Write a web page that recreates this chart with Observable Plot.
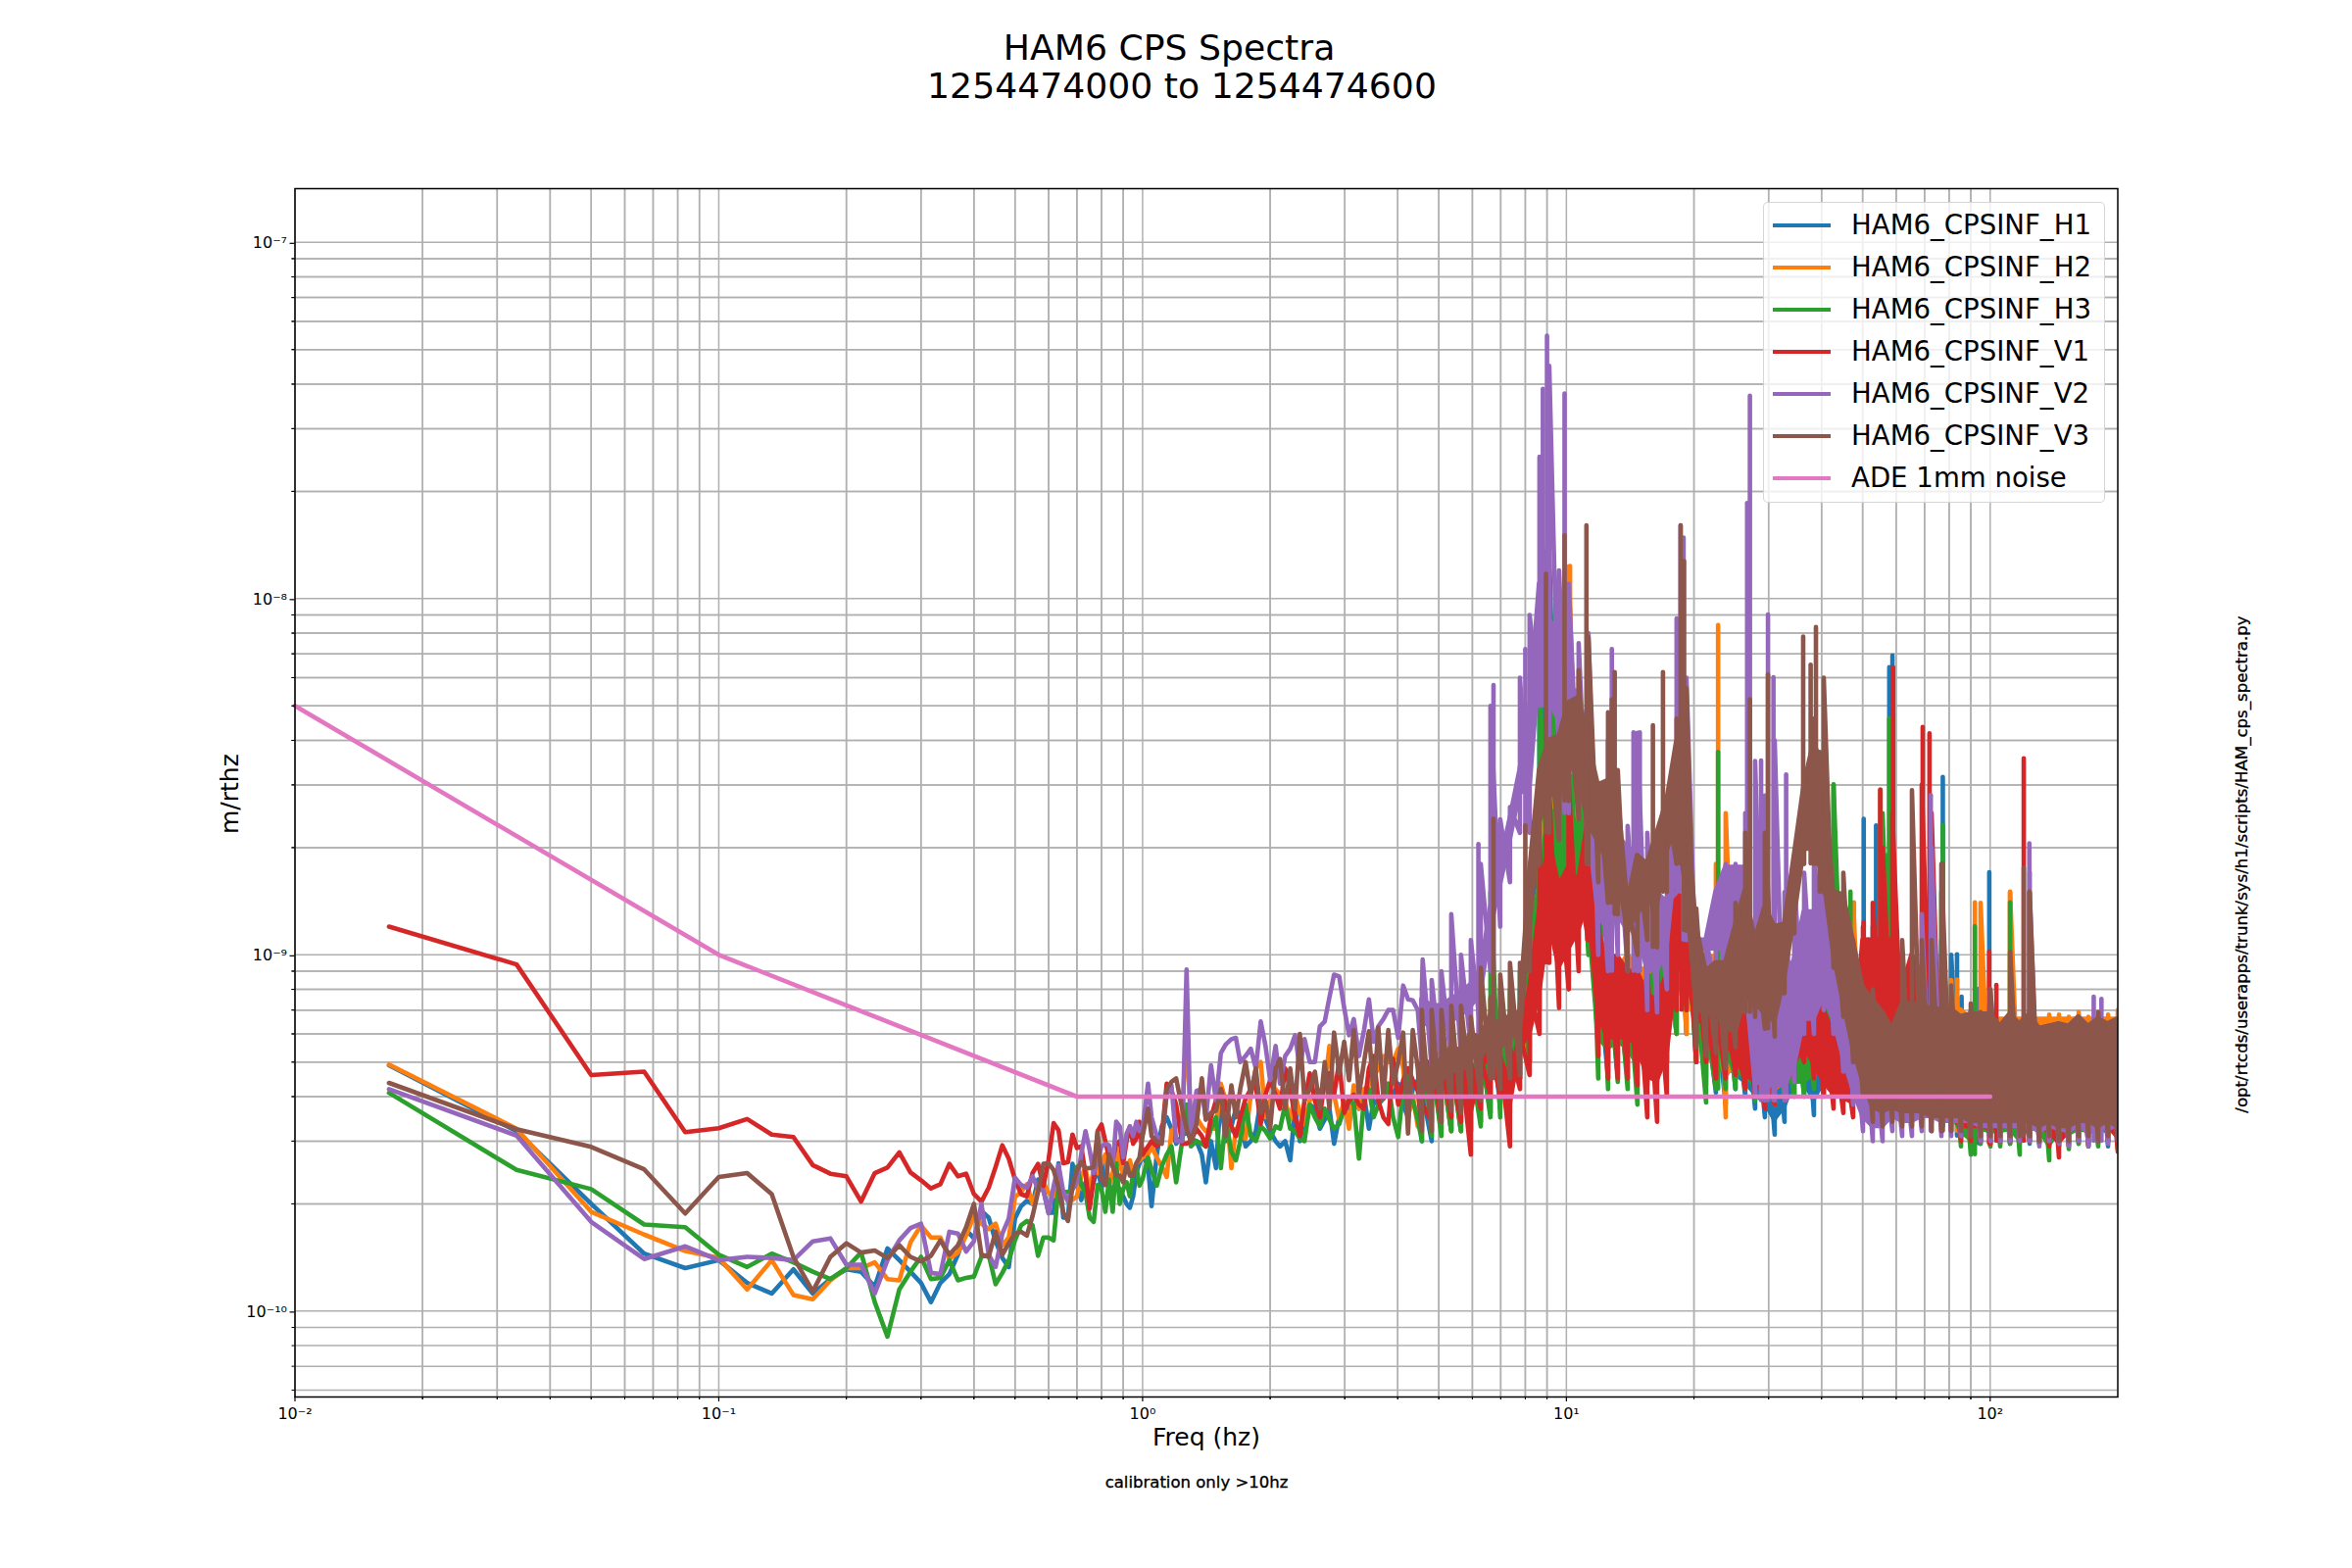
<!DOCTYPE html>
<html><head><meta charset="utf-8">
<script src="https://cdn.jsdelivr.net/npm/d3@7"></script>
<script src="https://cdn.jsdelivr.net/npm/@observablehq/plot@0.6"></script>
<style>
html,body{margin:0;padding:0;background:#fff}
#page{position:relative;width:2400px;height:1600px;overflow:hidden;font-family:"DejaVu Sans",sans-serif;color:#000}
#page svg{position:absolute;left:0;top:0}
.t{position:absolute;white-space:pre;line-height:1}
#legend{position:absolute;left:1799px;top:206px;width:349px;height:307px;box-sizing:border-box;background:rgba(255,255,255,.8);border:1.5px solid rgba(204,204,204,.8);border-radius:5px}
.row{position:absolute;left:0;font-size:27.6px;line-height:1;white-space:pre}
.sw{position:absolute;left:9px;width:59px;height:4.6px}
</style></head><body><div id="page"></div>
<script>
// All amplitudes are in units of 1e-10 m/rtHz.
const unit = 1e-10;
const names = ["HAM6_CPSINF_H1","HAM6_CPSINF_H2","HAM6_CPSINF_H3","HAM6_CPSINF_V1","HAM6_CPSINF_V2","HAM6_CPSINF_V3"];
const colors = ["#1f77b4","#ff7f0e","#2ca02c","#d62728","#9467bd","#8c564b"];
const adeName = "ADE 1mm noise", adeColor = "#e377c2";
const adeF = [0.01,0.1,0.7,100];
const adeV = [50,10,4,4];

// below 1 Hz: the 1/60 Hz bins
const binCount = 59;
const lowH1 = [4.9,3.2,2.0,1.45,1.32,1.39,1.2,1.12,1.31,1.12,1.23,1.31,1.29,1.17,1.5,1.39,1.29,1.2,1.06,1.2,1.27,1.44,1.69,1.6,1.91,1.83,1.57,1.41,1.33,1.82,1.97,2.04,2.0,2.34,2.2,1.89,1.89,2.6,1.83,1.83,2.59,2.26,2.05,2.3,2.2,2.3,2.54,2.2,2.66,2.26,2.16,2.25,2.2,2.1,2.0,1.95,2.1,2.45,2.6];
const lowH2 = [4.92,3.25,1.9,1.64,1.475,1.41,1.15,1.39,1.11,1.08,1.22,1.32,1.32,1.37,1.23,1.22,1.56,1.74,1.61,1.61,1.4,1.46,1.63,1.85,1.76,1.7,1.76,1.53,1.61,2.09,2.16,2.27,2.0,2.2,2.3,2.15,2.1,2.34,2.14,2.04,2.05,2.1,2.4,2.52,2.16,2.5,2.44,2.6,2.75,2.26,2.44,2.85,2.6,2.4,2.5,2.65,2.45,2.6,2.65];
const lowH3 = [4.1,2.49,2.2,1.75,1.72,1.44,1.33,1.45,1.37,1.29,1.23,1.32,1.46,1.06,0.848,1.15,1.29,1.42,1.23,1.24,1.39,1.22,1.24,1.25,1.42,1.44,1.19,1.28,1.39,1.58,1.74,1.79,1.74,1.43,1.61,1.61,1.58,2.24,2.16,2.16,2.2,2.54,2.26,2.15,1.83,1.78,2.26,2.2,1.9,2.34,1.9,2.6,2,2.2,2.3,2.1,2.45,2.55,2.25];
const lowV1 = [12,9.4,4.6,4.7,3.18,3.26,3.46,3.13,3.08,2.57,2.43,2.39,2.03,2.44,2.53,2.79,2.45,2.33,2.21,2.27,2.59,2.39,2.43,2.13,2.03,2.22,2.54,2.92,2.68,2.34,2.13,2.1,2.44,2.59,2.24,2.66,3.37,3.22,2.6,2.62,3.13,2.87,2.9,2.42,1.94,2.34,3.2,3.34,3,2.7,2.66,2.95,3,2.6,3,3.3,2.95,3.05,3.4];
const lowV2 = [4.2,3.11,1.78,1.4,1.52,1.39,1.42,1.41,1.39,1.57,1.6,1.35,1.35,1.12,1.39,1.58,1.71,1.76,1.28,1.27,1.67,1.65,1.47,1.57,2,1.44,1.33,1.65,1.82,2.37,2.26,2.22,2.39,2.2,2.18,1.88,2.24,2.57,2.16,2.03,2.2,2.3,2.76,3.2,2.83,2.44,2.66,2.9,2.95,2.92,2.55,3.4,3.3,2.7,3.15,3.3,3.1,3.4,3.2];
const lowV3 = [4.37,3.24,2.89,2.5,1.88,2.38,2.44,2.13,1.42,1.135,1.42,1.55,1.46,1.48,1.41,1.53,1.42,1.38,1.43,1.58,1.44,1.53,1.72,2,1.44,1.42,1.67,1.44,1.55,1.65,1.67,1.63,1.85,2.16,2.59,2.6,2.49,2.22,1.89,1.79,2.24,2.49,2.62,2.52,2.52,2.54,3.18,2.34,2.26,2.75,2.55,2.4,2.4,2.3,2.6,2.4,2.4,2.6,2.7];

// 1 to 4.6 Hz: individual traces
const midF = [1.00,1.03,1.05,1.08,1.11,1.14,1.17,1.20,1.24,1.27,1.30,1.34,1.38,1.41,1.45,1.49,1.53,1.57,1.62,1.66,1.70,1.75,1.80,1.85,1.90,1.95,2.00,2.06,2.11,2.17,2.23,2.29,2.35,2.41,2.48,2.55,2.62,2.69,2.76,2.83,2.91,2.99,3.07,3.15,3.24,3.33,3.42,3.51,3.60,3.70,3.80,3.90,4.01,4.12,4.23,4.34,4.46,4.58];
const midH1 = [2.75,2.55,1.97,2.75,3.3,3.5,3.25,2.95,3.1,3.2,3.05,3,2.75,2.3,3,2.52,4.05,3,3.3,3.7,3.5,2.9,3,3.2,3.9,3.45,3.2,3,2.9,3,2.65,3.7,3,3.5,3.8,3.7,3.25,3.45,3.7,2.95,3.5,3.8,3.7,3.9,3.7,4.05,3.25,3.9,3.8,3.95,4.3,4.05,4.35,3.8,3.5,4.2,4.45,4.05];
const midH2 = [2.7,2.75,2.9,2.7,2.55,2.38,3.2,3.3,3.5,6.3,3.25,3.5,3.3,3.2,3.25,3.25,4.35,3.9,2.52,3.25,3.1,3.05,4.05,4.8,5,3.5,3.9,4.2,4.05,3.9,3.45,4.05,3.6,3.35,3.9,4.15,4.15,4.3,5.55,4.05,3.45,3.9,3.25,4.3,3.7,4.2,4.3,4.55,4.8,5.2,5,5,5.45,4.8,3.5,4.05,3.3,5];
const midH3 = [2.35,2.7,2.5,2.25,2.55,2.75,2.9,2.3,3,3.8,2.9,3,2.95,2.9,3.25,3.5,2.52,3.45,2.8,2.65,3,3.8,3.1,3,3.3,3.2,3.05,3.3,3.25,3.8,3.25,3.2,3.05,3,3.8,3.5,3.3,3.7,3.45,3.25,3.35,3.7,3.95,3.8,2.68,3.95,4.2,3.5,3.8,4.05,4.35,3.5,3.08,4.2,4.55,3.9,3.45,5.55];
const midV1 = [2.75,2.9,3,2.9,3.1,4.35,4.15,3.8,2.95,2.95,3,3.25,3.1,2.9,3.5,3.9,4.2,3.8,3.3,3.1,3.5,3.95,4.2,4.3,3.35,4.05,4.45,4.05,3.7,4.8,4.2,3.5,3.1,3.9,4.65,3.9,3.5,4.45,4.65,4.05,5,3.6,3.9,4.05,3.8,3.7,4.8,5.2,3.9,3.5,3.35,5.1,3.8,4.45,4.8,4.45,4.15,3.8];
const midV2 = [3.25,4.35,3.5,3.1,3,4.05,4.3,3,3,9.1,3.1,4.15,4.2,3.45,4.9,3.9,5.3,5.6,5.8,5.85,5,5.2,5.45,4.8,6.5,5.55,4.45,5.55,4.35,5.2,5.45,5.95,4.8,5.8,5,5,6.3,6.5,7.6,8.8,8.7,7.1,5.95,6.6,5.2,6.15,7.5,5.7,6.3,6.6,7,7,5.85,8.2,7.5,7.45,7,9.7];
const midV3 = [3.1,3.7,3.1,3,2.95,4.2,4.4,4.5,3.7,3.25,3,3.35,4.5,3.45,3.6,3.65,4.2,3.1,4.3,3.5,4.2,5,4.05,4.8,3.6,3.9,3.25,4.8,5.1,3.7,4.8,3.7,6,3.9,4.2,4.7,3.7,5,3.7,6.05,4.65,5.7,4.45,6.15,4.05,5,6.1,4.05,6.25,3.95,6.15,4.35,5,6.05,3.15,6.15,4.8,6.3];

// above 4.6 Hz the traces swing fast: lower and upper reach of each
const bandF = [4.56,4.81,5.07,5.35,5.64,5.95,6.28,6.62,6.98,7.36,7.77,8.19,8.64,9.11,9.61,10.13,10.69,11.27,11.89,12.54,13.22,13.95,14.71,15.52,16.37,17.26,18.2,19.2,20.25,21.36,22.53,23.76,25.06,26.43,27.88,29.4,31.01,32.71,34.5,36.39,38.38,40.48,42.69,45.03,47.49,50.09,52.83,55.72,58.77,61.98,65.37,68.95,72.72,76.7,80.9,85.32,89.99,94.91,100.1,105.6,111.4,117.4,123.9,130.6,137.8,145.3,153.3,161.7,170.5,179.8,189.7,200];
const hiH1 = [5,5,5,5,5,5,5.5,7,6.5,7,8,11,90,135,35,40,30,25,9,8.5,8,8,8,8,9,10,20,15,8,7,7,8,7,7,7,7,7,7,8,9,9,8,8,9,8,10,12,10,8,7,8,7,8,11,10,6.5,7,8,6.5,6.5,6.3,6.3,6.4,6.3,6.4,6.4,6.3,6.4,6.3,6.4,6.4,6.3];
const loH1 = [3,3,3.2,3.2,3.2,3.2,3.4,3.6,3.7,3.8,4.5,5,8,12,12,14,14,12,5.2,4.5,4.6,4.5,4.5,4.5,4.5,5,6,6,5,4.3,4.1,3.8,4.2,4,3.7,3.5,3.13,3.4,4,4,3.55,4,4.5,4,3.9,3.6,3.6,3.6,3.6,3.6,3.4,3.4,3.4,3.3,3.2,3.1,3,2.95,2.95,2.95,2.95,2.95,2.95,2.95,2.95,2.9,2.95,2.95,2.95,2.95,2.9,2.95];
const hiH2 = [5,5,5,5,5,5.5,5.5,7.5,6,6,7,11,30,60,50,123,60,40,10,9.8,9,10,10,9,9,10,22,18,9,11,18,25,11,7,7,7,7,8,7,8,9,7,7,14,14,11,7,6.5,6.5,6.5,7,6.5,6.5,6.5,8.5,7,6.6,14,6.6,6.6,15,6.6,6.6,6.6,6.8,6.8,6.7,6.9,6.7,6.9,6.8,7];
const loH2 = [3.2,3.2,3.2,3.2,3.2,3.2,3.4,3.6,3.8,4,4.5,5,7,12,12,15,15,12,6,5,5,5,4.2,4.4,4.6,5,6,6,5,4.5,4.5,3.5,4.5,4.2,4,3.8,3.8,4,4.5,4.5,4.5,4.5,4.5,4.5,4,3.5,3.5,3.5,3.5,3.5,3.5,3.5,3.5,3.4,3.3,3.2,3.1,3,2.9,3,3,3,3,3,3,3,3,3,3,3,3,3];
const hiH3 = [5,5,5,5,5,5,5.5,15,8,8,9,14,60,120,30,50,35,30,18,10,9,9,8,8.5,9,11,30,13,8,6.5,8,8,6,6.5,5.5,5.5,5.5,6,8,10,9,12,30,15,7.8,7,8,25,15,7,8,8,10,15,6.5,6,6,6,6,6,6,6,6,6,6,6,6.1,6,6.1,6,6,6];
const loH3 = [3,3.1,3.1,3.2,3.2,3.2,3.3,3.5,3.5,3.6,4.5,5,7,12,10,12,10,10,4.5,4.2,4.4,4.2,3.8,4.3,4.4,5,6,7,5,3.85,4.2,4.2,4.2,4.2,3.9,3.9,4,4,4,4,4.2,4.5,5,5,3.9,3.8,3.8,3.8,3.8,3.8,3.5,3.5,3.5,3.5,3.3,2.9,2.75,2.95,2.9,2.9,2.95,2.75,3,2.95,2.65,2.9,2.85,2.95,2.9,2.9,3,2.85];
const hiV1 = [5,5,5,4.8,5,5,5.2,5.5,5.2,5.5,6,8,20,29,16,30,16,60,13,12,10,9,9,9,9,10,17,15,10,7,7,7,6.5,6.8,6.3,4.8,5,5.2,6,9,8,7,6,5.5,5.2,12,14,20,25,8,10,30,25,10,6.5,6.2,6.2,6.1,6.3,6.2,6.2,6.3,6.3,6.2,6.3,6.4,6.3,6.4,6.3,6.3,6.4,6.2];
const loV1 = [3.3,3.4,3.4,3.5,3.4,2.75,3.7,4,4,2.9,4.2,4.6,6,9.5,7.1,8,9,11,5.2,4.5,4.5,4.5,4.3,3.5,3.4,4,7,7,5,5,4.5,4.5,4.6,4.2,4,3.7,3.8,4.4,4.5,5,4.5,4,3.7,3.6,3.5,5,5,5,5,5,5,4,4,3.2,3.2,3,3,3,2.95,3,3,3,3,3,2.9,2.7,2.9,3,2.9,3,3,2.8];
const hiV2 = [8,8.5,9,13,10,11,18,50,24,26,60,90,250,450,120,110,75,80,22,40,23,23,42,22,15,14,88,60,11,11,15,18,18,25,35,28,40,15,16,17,20,17,13,12,7.5,7.3,6.2,6,6,5.8,6.5,13,20,10,6.5,6.5,6.2,6.5,8,6,6,6.4,15,6,6,6,6.2,6,6.2,6.5,6,6];
const loV2 = [5,4.8,4.8,5,5.2,5.5,6,9,12,16,22,22,50,40,35,25,25,18,10,9,10,9,9,7,6.9,8,15,11,8,8,8,8,8,8,4,3.9,3.9,3.9,4.4,6,6,7,6,4.7,3.8,3.2,3,3,3.2,3.1,3.1,3.2,3.2,3.1,3.1,3.1,3.1,3,3,3,3,3,3,2.9,3,2.95,2.9,3,2.9,3,2.95,3];
const hiV3 = [7,7,7,7.2,7.2,6.7,9.2,7.6,8.8,9.5,9.5,17,33,40,41,51,63,78,30,48,33,14,19,18,22,27,46,56,13.5,9,9.5,9.5,14,22,11,22,12,12.2,19,30,46,60,15,17,11,8.1,8,6.9,6.2,11,29,11,11,18,8.2,6.7,7.3,6.9,8,6.3,10.2,6.4,15,6.2,6.3,6.4,6.3,6.7,6.3,6.9,6.4,6.6];
const loV3 = [3.2,3.2,3.4,3.65,3.6,4,3.9,4.5,4.2,4.5,4.6,9,18,22,21,27,24,18,16,14,13,9,10,11,10.5,15,18,11.7,5.5,5.2,5.3,4.8,5.5,6.9,6.7,6.2,5.9,7.8,11.5,18,18,15,9.2,6.7,5,4,3.4,3.3,3.4,3.3,3.3,3.3,3.2,3.2,3.2,3.2,3.1,3.1,3.1,3.1,3.1,3.1,3.1,3,3.1,3,3,3.1,3.1,3,3.1,3];

// isolated narrow peaks: frequency and height
const peakFH1 = [8.92,50.3,51.5,53.8,57.8,58.8,77.3,83.5,85.6,93.9,99.5];
const peakVH1 = [135,24,11,23,64,69,31.5,10,7.6,8,17];
const peakFH2 = [10.2,22.8,47.7,83.5,92,111.4];
const peakVH2 = [123,84,14,8.5,14,15];
const peakFH3 = [22.8,42.7,46.8,55.1,56.6,57.8,77.3,92,111.4,123.9];
const peakVH3 = [37,30,15,29,19,46,23,12,14,17];
const peakFV1 = [8.95,10.13,11.2,18.7,50.3,55,59,69.3,71.9,99.5,103.4,120];
const peakVV1 = [29,44,61,43,12.3,29,64,43.5,41.7,10.2,8.2,35.5];
const peakFV2 = [6.2,6.73,8,8.8,9,9.9,12.8,14.4,14.9,18.6,18.9,26.7,27.1,28.8,29.9,30.8,33,72.4,123.7,175.5,183];
const peakVV2 = [20.4,57,72,387,545,375,72,42,42,160,148,185,370,35,90,60,32,28,20.5,7.6,7.5];
const peakFV3 = [6.73,8,8.95,9.9,11.15,12.8,13,16,16.9,18.6,18.95,27.1,29.9,36.2,37.7,38.8,39.6,77.3,120,123.7];
const peakVV3 = [24,23,117,150,160,52,62,44,62,160,127,52,61,78,65,83,37,18,17.5,15];

const xMajor = [0.01,0.1,1,10,100];
const yMajor = [1e-10,1e-9,1e-8,1e-7];
const xDomain = [0.01,200];
const yDomain = [5.74e-11,1.415e-7];
const titleLines = ["HAM6 CPS Spectra","1254474000 to 1254474600"];
const xLabel = "Freq (hz)", yLabel = "m/rthz";
const caption = "calibration only >10hz";
const sideNote = "/opt/rtcds/userapps/trunk/sys/h1/scripts/HAM_cps_spectra.py";

// ---- assembling
const sup = {"-":"⁻","0":"⁰","1":"¹","2":"²","3":"³","4":"⁴","5":"⁵","6":"⁶","7":"⁷","8":"⁸","9":"⁹"};
const powerLabel = v => "10" + String(Math.round(Math.log10(v))).split("").map(c => sup[c]).join("");
const minors = (majors, [a,b]) => majors.flatMap(m => d3.range(2,10).map(k => m*k)).concat(majors.map(m => m/10).flatMap(m => d3.range(2,10).map(k => m*k))).filter(v => v>a && v<b);
const xMinor = minors(xMajor,xDomain), yMinor = minors(yMajor,yDomain);

const fLow = d3.range(1,binCount+1).map(k => k/60);
const low = [lowH1,lowH2,lowH3,lowV1,lowV2,lowV3];
const mid = [midH1,midH2,midH3,midV1,midV2,midV3];
const hi = [hiH1,hiH2,hiH3,hiV1,hiV2,hiV3];
const lo = [loH1,loH2,loH3,loV1,loV2,loV3];
const peakF = [peakFH1,peakFH2,peakFH3,peakFV1,peakFV2,peakFV3];
const peakV = [peakVH1,peakVH2,peakVH3,peakVV1,peakVV2,peakVV3];

const lw = 4.6;
const seriesMarks = names.flatMap((name,s) => {
  const trace = [
    ...fLow.map((f,i) => ({f, v: low[s][i]*unit})),
    ...midF.map((f,i) => ({f, v: mid[s][i]*unit})),
    ...bandF.flatMap((f,i) => [{f, v: lo[s][i]*unit},{f, v: hi[s][i]*unit}])
  ].sort((a,b) => a.f-b.f);
  // the solid core of the fast swing, between the reaches read above
  const core = bandF.map((f,i) => {
    const a = f<25 ? 1.3 : 1.1, b = f<8 ? 1.5 : 2.2;
    return {f, y1: Math.min(lo[s][i]*a,hi[s][i])*unit, y2: Math.min(lo[s][i]*b,hi[s][i])*unit};
  });
  const peaks = peakF[s].map((f,i) => {
    const j = d3.bisectCenter(bandF,f);
    return {f, y1: lo[s][j]*unit, y2: peakV[s][i]*unit};
  });
  return [
    Plot.line(trace,{x:"f",y:"v",stroke:colors[s],strokeWidth:lw,strokeLinejoin:"round",strokeLinecap:"round",clip:true}),
    Plot.areaY(core,{x:"f",y1:"y1",y2:"y2",fill:colors[s],stroke:colors[s],strokeWidth:lw,strokeLinejoin:"round",clip:true}),
    Plot.ruleX(peaks,{x:"f",y1:"y1",y2:"y2",stroke:colors[s],strokeWidth:lw,strokeLinecap:"round",clip:true})
  ];
});

const grid = {stroke:"#b0b0b0",strokeOpacity:1,strokeWidth:1.5};
const chart = Plot.plot({
  width:2400,height:1600,marginLeft:300.5,marginRight:239.5,marginTop:192,marginBottom:175,
  style:{fontFamily:"'DejaVu Sans',sans-serif",color:"#000",background:"transparent"},
  x:{type:"log",domain:xDomain},
  y:{type:"log",domain:yDomain},
  marks:[
    Plot.gridX([...xMajor,...xMinor],grid),
    Plot.gridY([...yMajor,...yMinor],grid),
    ...seriesMarks,
    Plot.line(adeF.map((f,i) => ({f,v:adeV[i]*unit})),{x:"f",y:"v",stroke:adeColor,strokeWidth:lw,strokeLinejoin:"round"}),
    Plot.frame({stroke:"#000",strokeWidth:1.5}),
    Plot.axisX(xMajor,{tickSize:5,tickPadding:6,fontSize:16,tickFormat:powerLabel,label:null,strokeWidth:1.2}),
    Plot.axisX(xMinor,{tickSize:3,tickFormat:()=>"",label:null,strokeWidth:1}),
    Plot.axisY(yMajor,{tickSize:5,tickPadding:3,fontSize:16,tickFormat:powerLabel,label:null,strokeWidth:1.2,dy:1}),
    Plot.axisY(yMinor,{tickSize:3,tickFormat:()=>"",label:null,strokeWidth:1}),
    Plot.text([xLabel],{frameAnchor:"bottom",dx:0,dy:49,fontSize:25,fill:"#000"}),
    Plot.text([yLabel],{frameAnchor:"left",rotate:-90,dx:-66,dy:42,fontSize:25,fill:"#000"})
  ]
});
const page = document.getElementById("page");
page.appendChild(chart);

function addText(str,css){const d=document.createElement("div");d.className="t";d.textContent=str;Object.assign(d.style,css);page.appendChild(d);return d;}
addText(titleLines[0],{left:"1193px",top:"31px",fontSize:"36.2px",transform:"translateX(-50%)"});
addText(titleLines[1],{left:"1206px",top:"70px",fontSize:"36.2px",transform:"translateX(-50%)"});
addText(caption,{left:"1221px",top:"1505px",fontSize:"16.5px",transform:"translateX(-50%)",webkitTextStroke:"0.35px #000"});
addText(sideNote,{left:"2288px",top:"882px",fontSize:"16.6px",transform:"translate(-50%,-50%) rotate(-90deg)",webkitTextStroke:"0.35px #000"});

const legend = document.createElement("div");legend.id="legend";page.appendChild(legend);
[...names,adeName].forEach((n,i)=>{
  const c = i<names.length?colors[i]:adeColor;
  const sw = document.createElement("div");sw.className="sw";sw.style.background=c;sw.style.top=(20.5+43*i)+"px";legend.appendChild(sw);
  const r = document.createElement("div");r.className="row";r.textContent=n;r.style.left="89px";r.style.top=(8.5+43*i)+"px";legend.appendChild(r);
});
</script></body></html>
